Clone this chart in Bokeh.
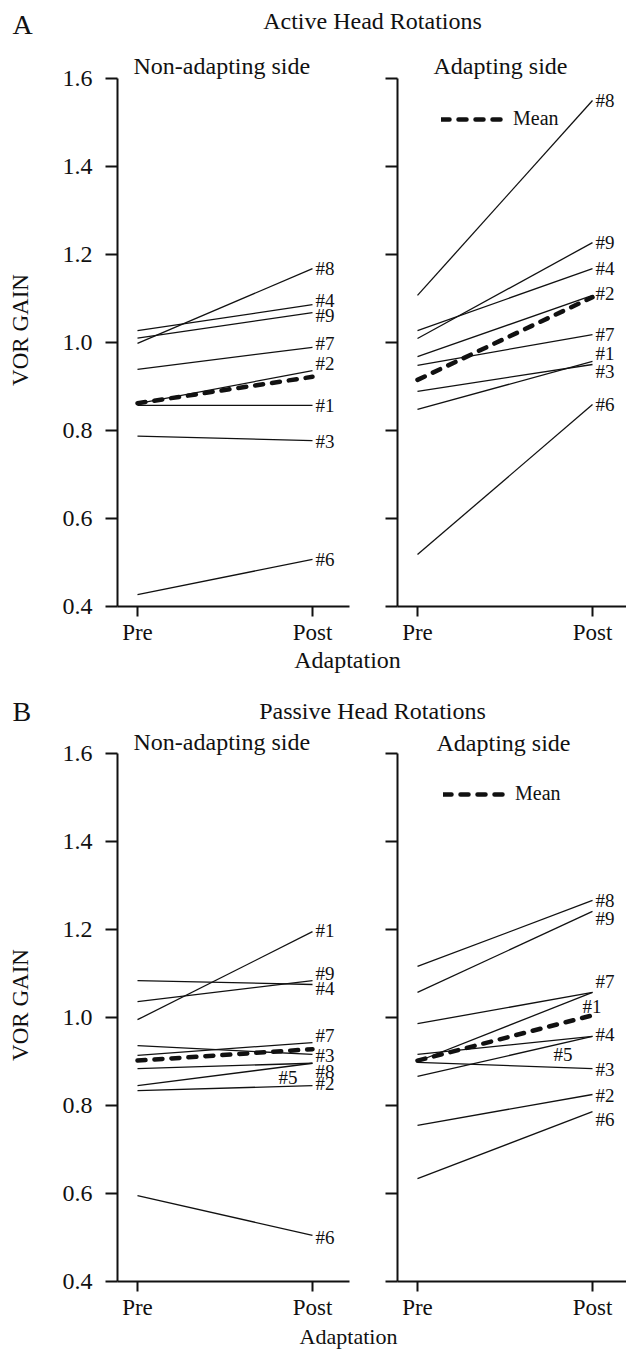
from bokeh.plotting import figure
from bokeh.layouts import column, row
from bokeh.models import (Range1d, FixedTicker, PrintfTickFormatter, Legend,
                          LegendItem, ColumnDataSource)
from bokeh.core.properties import value
from bokeh.embed import file_html
from bokeh.resources import INLINE

# ---------------- data ----------------
phase_x = [0, 1]
phase_labels = ["Pre", "Post"]
gain_ticks = [0.4, 0.6, 0.8, 1.0, 1.2, 1.4, 1.6]

subjects_active = ["#1", "#2", "#3", "#4", "#6", "#7", "#8", "#9"]
active_non_pre = [0.857, 0.861, 0.787, 1.027, 0.427, 0.939, 0.998, 1.010]
active_non_post = [0.857, 0.936, 0.777, 1.086, 0.507, 0.989, 1.168, 1.068]
active_adp_pre = [0.848, 0.968, 0.889, 1.027, 0.518, 0.948, 1.107, 1.009]
active_adp_post = [0.957, 1.107, 0.950, 1.168, 0.859, 1.018, 1.550, 1.227]
active_mean_non = [0.862, 0.922]
active_mean_adp = [0.915, 1.103]

subjects_passive = ["#1", "#2", "#3", "#4", "#5", "#6", "#7", "#8", "#9"]
passive_non_pre = [0.995, 0.834, 0.936, 1.084, 0.845, 0.595, 0.914, 0.884, 1.036]
passive_non_post = [1.195, 0.845, 0.916, 1.075, 0.896, 0.505, 0.943, 0.896, 1.084]
passive_adp_pre = [0.900, 0.755, 0.898, 0.866, 0.916, 0.634, 0.986, 1.116, 1.057]
passive_adp_post = [1.057, 0.825, 0.884, 0.957, 0.957, 0.786, 1.057, 1.266, 1.241]
passive_mean_non = [0.902, 0.928]
passive_mean_adp = [0.902, 1.005]

# label nudges in screen pixels (layout only)
dx_a_non = [3] * 8
dy_a_non = [0, -7, 1, -4, 0, -4, 0, 3]
dx_a_adp = [3] * 8
dy_a_adp = [-8, -2, 7, 0, 0, 0, 0, 0]
dx_p_non = [3, 3, 3, 3, -34, 3, 3, 3, 3]
dy_p_non = [-1, -2, 1, 4, 14, 2, -7, 8, -7]
dx_p_adp = [-10, 3, 3, 3, -39, 3, 3, 3, 3]
dy_p_adp = [14, 1, 1, -2, 18, 8, -11, 0, 7]

# ---------------- style / layout ----------------
SERIF = "Liberation Serif"
INK = "#111111"
SX = 175.0   # px per x unit (Pre -> Post)
SY = 440.0   # px per gain unit
HEAD = 25    # px of frame above the 1.6 tick
FRAME_H = 528 + HEAD
TOTAL_W = 626


def to_x(px, pre_px):
    return (px - pre_px) / SX


def to_y(py, top16):
    return 1.6 + (top16 - py) / SY


def panel(pre, post, mean, subjects, dx, dy, subtitle, sub_pos, top16, pre_px,
          frame_left, fig_w, border_l, border_r, border_b, left, legend_loc=None):
    frame_w = fig_w - border_l - border_r
    xs = to_x(frame_left, pre_px)
    p = figure(width=fig_w, height=FRAME_H + border_b,
               x_range=Range1d(xs, xs + frame_w / SX),
               y_range=Range1d(0.4, 0.4 + FRAME_H / SY),
               output_backend="svg", toolbar_location=None,
               min_border_left=border_l, min_border_right=border_r,
               min_border_top=0, min_border_bottom=border_b,
               outline_line_color=None, background_fill_color="white",
               border_fill_color="white")
    p.grid.visible = False
    n = len(subjects)
    src = ColumnDataSource(dict(x0=[phase_x[0]] * n, x1=[phase_x[1]] * n,
                                pre=pre, post=post, name=subjects, dx=dx, dy=dy))
    p.segment(x0="x0", y0="pre", x1="x1", y1="post", source=src,
              line_color=INK, line_width=1.3)
    mean_r = p.line(x=phase_x, y=mean, line_color=INK, line_width=4.5,
                    line_dash="8 9", line_cap="round")
    p.text(x="x1", y="post", text="name", x_offset="dx", y_offset="dy",
           source=src, text_font=value(SERIF), text_font_size="19px",
           text_baseline="middle", text_align="left", text_color=INK)
    p.text(x=[to_x(sub_pos[0], pre_px)], y=[to_y(sub_pos[1], top16)],
           text=[subtitle], text_font=value(SERIF), text_font_size="24px",
           text_baseline="middle", text_align="left", text_color=INK)

    xa = p.xaxis[0]
    xa.ticker = FixedTicker(ticks=phase_x)
    xa.major_label_overrides = {phase_x[i]: phase_labels[i] for i in range(2)}
    xa.major_tick_out = 10
    xa.major_tick_in = 0
    xa.minor_tick_out = 0
    xa.minor_tick_in = 0
    xa.axis_line_width = 2
    xa.major_tick_line_width = 2
    xa.axis_line_color = INK
    xa.major_tick_line_color = INK
    xa.major_label_standoff = 3
    xa.major_label_text_font = SERIF
    xa.major_label_text_font_size = "23px"
    xa.major_label_text_color = INK

    ya = p.yaxis[0]
    ya.ticker = FixedTicker(ticks=gain_ticks)
    ya.bounds = (gain_ticks[0], gain_ticks[-1])
    ya.major_tick_out = 12
    ya.major_tick_in = 0
    ya.minor_tick_out = 0
    ya.minor_tick_in = 0
    ya.axis_line_width = 2
    ya.major_tick_line_width = 2
    ya.axis_line_color = INK
    ya.major_tick_line_color = INK
    if left:
        ya.formatter = PrintfTickFormatter(format="%.1f")
        ya.major_label_standoff = 13
        ya.major_label_text_font = SERIF
        ya.major_label_text_font_size = "24px"
        ya.major_label_text_color = INK
        ya.axis_label = "VOR GAIN"
        ya.axis_label_text_font = SERIF
        ya.axis_label_text_font_size = "23px"
        ya.axis_label_text_font_style = "normal"
        ya.axis_label_text_color = INK
        ya.axis_label_standoff = 27
    else:
        ya.major_label_overrides = {t: "" for t in gain_ticks}
        ya.major_label_standoff = 0
        ya.major_label_text_font = SERIF
        ya.major_label_text_font_size = "23px"

    if legend_loc is not None:
        lg = Legend(items=[LegendItem(label="Mean", renderers=[mean_r])],
                    location=legend_loc, glyph_width=63, glyph_height=20,
                    label_standoff=9, padding=0, margin=0, spacing=0,
                    border_line_alpha=0, background_fill_alpha=0,
                    label_text_font=SERIF, label_text_font_size="20px",
                    label_text_color=INK)
        p.add_layout(lg)
    return p


def strip(top_px, bottom_px, texts):
    p = figure(width=TOTAL_W, height=bottom_px - top_px,
               x_range=Range1d(0, TOTAL_W), y_range=Range1d(bottom_px, top_px),
               output_backend="svg", toolbar_location=None,
               x_axis_location=None, y_axis_location=None,
               min_border=0, outline_line_color=None,
               background_fill_color="white", border_fill_color="white")
    p.grid.visible = False
    for (x, y, t, size, align) in texts:
        p.text(x=[x], y=[y], text=[t], text_font=value(SERIF),
               text_font_size=size, text_align=align, text_baseline="middle",
               text_color=INK)
    return p


LEFT_W = 372
RIGHT_W = TOTAL_W - LEFT_W
TOP_A, TOP_B = 78, 753          # screen y of the 1.6 tick in each row
BOT_A = TOP_A + 528 + 42
BOT_B = TOP_B + 528 + 41

header = strip(0, TOP_A - HEAD, [
    (12, 24, "A", "28px", "left"),
    (372, 20, "Active Head Rotations", "24px", "center"),
])

a1 = panel(active_non_pre, active_non_post, active_mean_non, subjects_active,
           dx_a_non, dy_a_non, "Non-adapting side", (133, TOP_A - 13), TOP_A, 137,
           117, LEFT_W, 117, 23, 42, True)
a2 = panel(active_adp_pre, active_adp_post, active_mean_adp, subjects_active,
           dx_a_adp, dy_a_adp, "Adapting side", (433, TOP_A - 13), TOP_A, 417,
           397, RIGHT_W, 25, 0, 42, False, legend_loc=(44, 476))

mid = strip(BOT_A, TOP_B - HEAD, [
    (347, 659, "Adaptation", "24px", "center"),
    (12, 711, "B", "28px", "left"),
    (372, 710, "Passive Head Rotations", "24px", "center"),
])

b1 = panel(passive_non_pre, passive_non_post, passive_mean_non, subjects_passive,
           dx_p_non, dy_p_non, "Non-adapting side", (133, TOP_B - 12), TOP_B, 137,
           117, LEFT_W, 117, 23, 41, True)
b2 = panel(passive_adp_pre, passive_adp_post, passive_mean_adp, subjects_passive,
           dx_p_adp, dy_p_adp, "Adapting side", (436, TOP_B - 11), TOP_B, 417,
           397, RIGHT_W, 25, 0, 41, False, legend_loc=(46, 476))

bottom = strip(BOT_B, 1349, [
    (348, 1335.5, "Adaptation", "22px", "center"),
])

layout = column(header, row(a1, a2), mid, row(b1, b2), bottom)

open("out.html", "w").write(file_html(layout, INLINE))
